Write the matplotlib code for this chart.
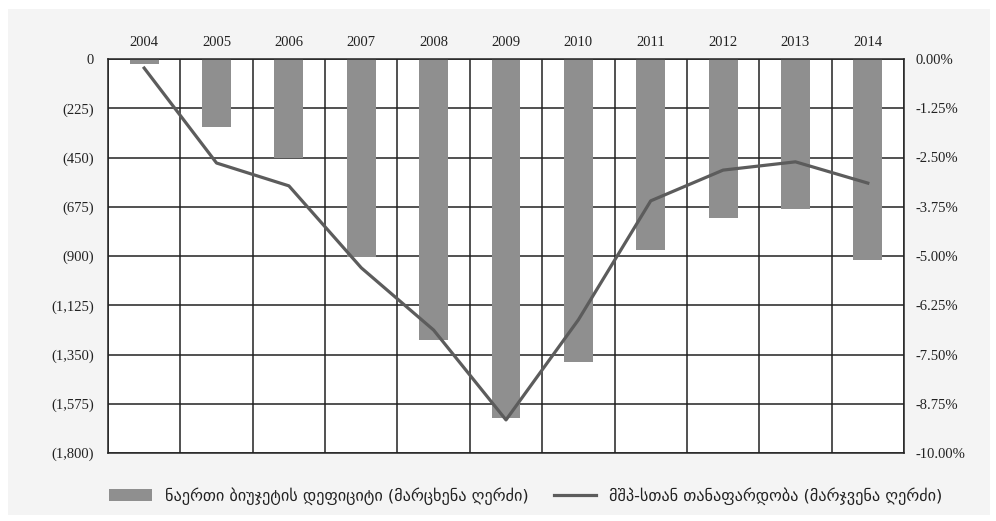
import numpy as np
import matplotlib.pyplot as plt
from matplotlib.patches import Rectangle
from matplotlib.ticker import FuncFormatter

years = ['2004', '2005', '2006', '2007', '2008', '2009', '2010', '2011', '2012', '2013', '2014']
deficit = [-25, -310, -450, -905, -1285, -1642, -1384, -872, -726, -685, -918]
gdp_ratio = [-0.23, -2.64, -3.22, -5.30, -6.88, -9.16, -6.62, -3.60, -2.82, -2.61, -3.15]

left_ticks = np.arange(0, -1801, -225)
right_ticks = np.arange(0, -10.01, -1.25)

bar_label = 'ნაერთი ბიუჯეტის დეფიციტი (მარცხენა ღერძი)'
line_label = 'მშპ-სთან თანაფარდობა (მარჯვენა ღერძი)'

serif = ['Liberation Serif', 'DejaVu Serif']

fig = plt.figure(figsize=(9.96, 5.21), dpi=100)
fig.patches.append(Rectangle((8/996, 6/521), 982/996, 506/521, transform=fig.transFigure,
                             facecolor='#f4f4f4', edgecolor='none', zorder=-10))

ax = fig.add_axes([108/996, 68/521, 796/996, 394/521])
ax.set_facecolor('white')
x = np.arange(len(years))

bars = ax.bar(x, deficit, width=0.4, color='#8f8f8f', zorder=2, label=bar_label)
ax.set_xlim(-0.5, len(years) - 0.5)
ax.set_ylim(-1800, 0)
ax.set_yticks(left_ticks)
ax.yaxis.set_major_formatter(FuncFormatter(lambda v, p: '0' if v == 0 else '({:,.0f})'.format(abs(v))))
ax.set_xticks(x)
ax.set_xticklabels(years)
ax.xaxis.tick_top()
ax.set_xticks(np.arange(-0.5, len(years), 1), minor=True)
ax.tick_params(axis='x', which='both', length=0, pad=7)
ax.tick_params(axis='y', length=0, pad=10)
ax.grid(True, axis='y', color='#222222', linewidth=1.1, zorder=1)
ax.grid(True, axis='x', which='minor', color='#222222', linewidth=1.1, zorder=1)
ax.grid(False, axis='x', which='major')
for s in ax.spines.values():
    s.set_color('#222222')
    s.set_linewidth(1.1)

ax2 = ax.twinx()
line, = ax2.plot(x, gdp_ratio, color='#5c5c5c', linewidth=2.3, zorder=3, label=line_label)
ax2.set_ylim(-10, 0)
ax2.set_yticks(right_ticks)
ax2.yaxis.set_major_formatter(FuncFormatter(lambda v, p: '{:.2f}%'.format(v) if v != 0 else '0.00%'))
ax2.tick_params(axis='y', length=0, pad=8)
for s in ax2.spines.values():
    s.set_visible(False)

for lab in ax.get_xticklabels() + ax.get_yticklabels() + ax2.get_yticklabels():
    lab.set_family(serif)
    lab.set_fontsize(10.5)
    lab.set_color('#222222')

fig.legend(handles=[bars, line], labels=[bar_label, line_label], loc='center',
           bbox_to_anchor=(526/996, 25/521), ncol=2, frameon=False,
           prop={'family': 'DejaVu Sans', 'size': 11.7}, handlelength=2.6,
           handleheight=0.7, columnspacing=1.6, labelcolor='#222222')

fig.savefig('out.png', dpi=100, facecolor='white')
